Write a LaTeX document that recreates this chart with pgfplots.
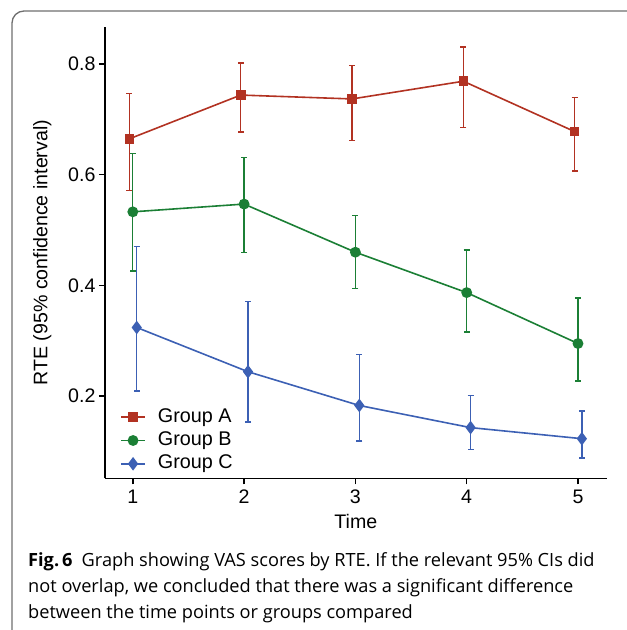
\documentclass[border=0pt]{standalone}
\usepackage{pgfplots}
\pgfplotsset{compat=1.18}
\usepackage{fontspec}
\setmainfont{Liberation Sans}
\newfontfamily\capfont{Open Sans}
\definecolor{cA}{HTML}{B23222}
\definecolor{cB}{HTML}{1B7F35}
\definecolor{cC}{HTML}{3C60B4}
\definecolor{frame}{HTML}{6E6E6E}
\begin{document}
\begin{tikzpicture}[x=1pt,y=1pt]
\begin{scope}[shift={(-105,-151.7)}]
\useasboundingbox (0,0) rectangle (627,630);
\draw[line width=1.3pt, color=frame, rounded corners=12pt] (12,-30) -- (12,619) -- (680,619);
\end{scope}
\begin{axis}[
  scale only axis,
  width=501.7pt, height=451.3pt,
  xmin=0.75, xmax=5.258, ymin=0.0514, ymax=0.867,
  axis lines*=left,
  axis line style={line width=1.6pt, black},
  tick align=outside, major tick length=6pt,
  tick style={line width=1.4pt, black},
  xtick={1,2,3,4,5}, ytick={0.2,0.4,0.6,0.8},
  font=\fontsize{19.6}{23}\selectfont,
  /pgf/number format/assume math mode=true,
  yticklabel style={/pgf/number format/fixed, /pgf/number format/precision=1},
  xticklabel style={yshift=-2pt},
  xlabel={Time},
  ylabel={RTE (95\% confidence interval)},
  xlabel style={at={(axis description cs:0.5,-0.095)}, anchor=center},
  ylabel style={at={(axis description cs:-0.125,0.5)}, anchor=center},
  legend style={at={(rel axis cs:0.030,0.158)}, anchor=north west, draw=none, fill=none,
    inner sep=0pt, row sep=3.3pt, column sep=12pt,
    nodes={inner sep=0pt, text height=15pt, text depth=5pt},
    font=\fontsize{19.8}{23}\selectfont},
  legend cell align=left,
  legend image code/.code={\draw[mark repeat=2,mark phase=2] plot coordinates {(0pt,0pt)(12pt,0pt)(24pt,0pt)};},
  error bars/error bar style={line width=1.3pt},
  error bars/error mark options={rotate=90, mark size=3pt, line width=1.3pt},
]
\addplot[color=cA, line width=1.6pt, mark=square*, mark size=4pt, mark options={solid},
  error bars/.cd, y dir=both, y explicit] coordinates {
  (0.97,0.665) += (0,0.082) -= (0,0.094)
  (1.97,0.744) += (0,0.058) -= (0,0.067)
  (2.97,0.737) += (0,0.060) -= (0,0.075)
  (3.97,0.769) += (0,0.062) -= (0,0.083)
  (4.97,0.678) += (0,0.061) -= (0,0.071)
};
\addlegendentry{Group A}
\addplot[color=cB, line width=1.6pt, mark=*, mark size=4.6pt, mark options={solid},
  error bars/.cd, y dir=both, y explicit] coordinates {
  (1.0,0.533) += (0,0.105) -= (0,0.107)
  (2.0,0.547) += (0,0.084) -= (0,0.088)
  (3.0,0.460) += (0,0.066) -= (0,0.065)
  (4.0,0.387) += (0,0.077) -= (0,0.071)
  (5.0,0.295) += (0,0.082) -= (0,0.068)
};
\addlegendentry{Group B}
\addplot[color=cC, line width=1.6pt, mark=diamond*, mark size=5.5pt, mark options={solid},
  error bars/.cd, y dir=both, y explicit] coordinates {
  (1.035,0.324) += (0,0.146) -= (0,0.115)
  (2.035,0.244) += (0,0.127) -= (0,0.091)
  (3.035,0.183) += (0,0.092) -= (0,0.064)
  (4.035,0.143) += (0,0.058) -= (0,0.040)
  (5.035,0.123) += (0,0.050) -= (0,0.035)
};
\addlegendentry{Group C}
\end{axis}
\begin{scope}[shift={(-105,-151.7)}, every node/.style={anchor=base west, inner sep=0pt, font=\capfont\fontsize{18.2}{22}\selectfont}]
\node at (28,63.3) {\textbf{Fig.\,6}\hspace{0.5em}Graph showing VAS scores by RTE. If the relevant 95\% CIs did};
\node at (28,37.3) {not overlap, we concluded that there was a significant difference};
\node at (28,11.3) {between the time points or groups compared};
\end{scope}
\end{tikzpicture}
\end{document}
